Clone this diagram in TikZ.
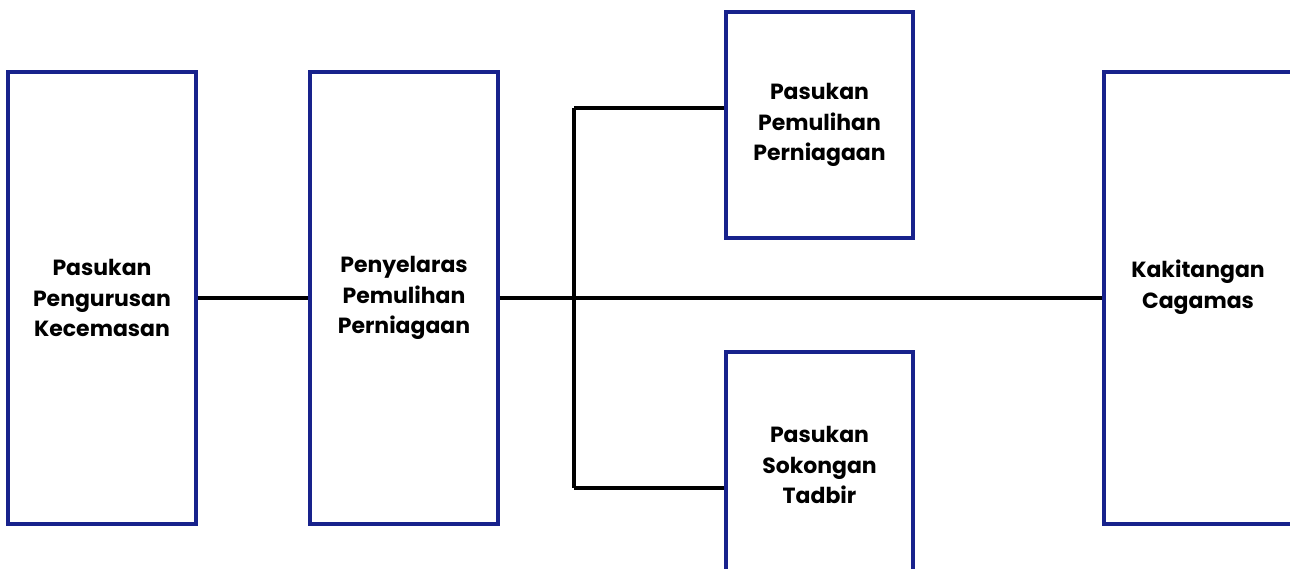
\documentclass[tikz,border=0pt]{standalone}
\usepackage{fontspec}
\setmainfont{Poppins}[BoldFont=* Bold]
\usetikzlibrary{calc, positioning}
\definecolor{bxblue}{RGB}{24,34,140}

\begin{document}
\begin{tikzpicture}[x=0.02cm, y=-0.02cm,
                  bx/.style={draw=bxblue, line width=2pt, inner sep=0mm, align=center,
                             font=\bfseries\fontsize{12.5}{17.5}\selectfont},
                  tall/.style={bx, minimum width=3.76cm, minimum height=9.04cm},
                  short/.style={bx, minimum width=3.74cm, minimum height=4.52cm},
                  txt/.style={align=center, inner sep=0mm, font=\bfseries\fontsize{12.5}{17.5}\selectfont},
                  ln/.style={draw=black, line width=2pt}]

    \useasboundingbox (0, 0) rectangle (1290, 568); % size of the reference

    \node [tall]  (pk)  at (102, 298)   {Pasukan\\Pengurusan\\Kecemasan};
    \node [tall]  (ppp) at (404, 298)   {Penyelaras\\Pemulihan\\Perniagaan};
    \node [short] (ppb) at (819.5, 125) {Pasukan\\Pemulihan\\Perniagaan};
    \node [short] (pst) at (819.5, 465) {Pasukan\\Sokongan\\Tadbir};
    \node [tall]  (kak) at (1198, 298)  {};
    \node [txt]   (kt)  at (1198, 287)  {Kakitangan\\Cagamas};

    \coordinate (up) at (574, 108);
    \coordinate (dn) at (574, 488);

    \draw [ln] (pk) -- (ppp);
    \draw [ln] (ppp) -- (kak);
    \draw [ln] (up) -- (dn);
    \draw [ln] (up) -- (up -| ppb.west);
    \draw [ln] (dn) -- (dn -| pst.west);

\end{tikzpicture}
\end{document}
